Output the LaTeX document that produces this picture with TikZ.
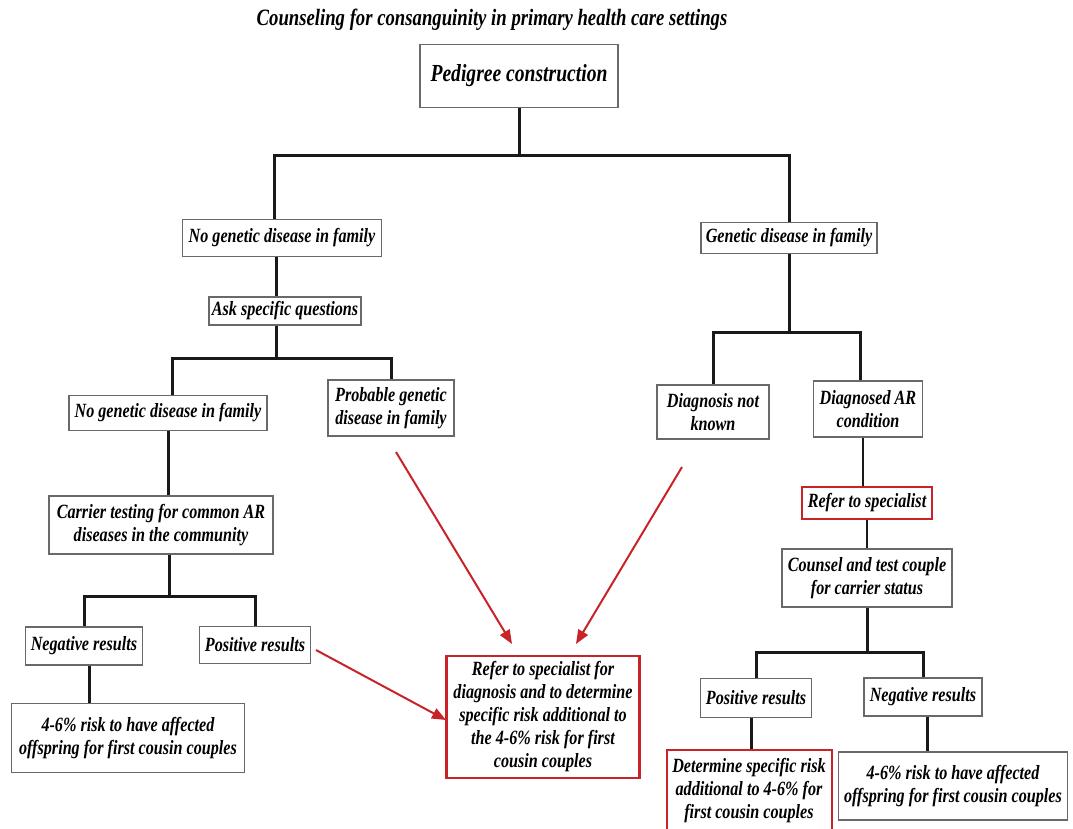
\documentclass[tikz,border=0pt]{standalone}
\usepackage{fontspec}
\usetikzlibrary{arrows.meta}
\newfontfamily\boxfont{Liberation Serif}[FakeStretch=0.8]
\definecolor{redline}{RGB}{200,35,40}
\definecolor{boxgray}{RGB}{105,105,105}
\def\bodysize{\fontsize{20.2}{23}\selectfont}

\begin{document}
\begin{tikzpicture}[x=1pt, y=-1pt,
    box/.style={draw=boxgray, line width=1.3pt, fill=white, align=center, inner sep=1pt,
        font=\boxfont\bfseries\itshape\bodysize},
    redbox/.style={box, draw=redline, line width=1.6pt},
    conn/.style={line width=3pt, black!90},
    thinconn/.style={line width=1.5pt, black!90},
    redarr/.style={draw=redline, line width=2pt, -{Triangle[length=14pt, width=11pt]}}]
    \useasboundingbox (0,0) rectangle (1073,828);

    % Title and root of the tree.
    \node[font=\boxfont\bfseries\itshape\fontsize{23.4}{27}\selectfont] (title) at (492,20)
        {Counseling for consanguinity in primary health care settings};
    \node[box, minimum width=198pt, minimum height=63pt, font=\boxfont\bfseries\itshape\fontsize{24.5}{28}\selectfont]
        (ped) at (519,76) {Pedigree construction};

    % Left branch: no known genetic disease.
    \node[box, minimum width=199pt, minimum height=37pt] (nog) at (282,238) {No genetic disease in family};
    \node[box, minimum width=152pt, minimum height=28pt] (ask) at (285,311) {Ask specific questions};
    \node[box, minimum width=198pt, minimum height=35pt] (nog2) at (168,413) {No genetic disease in family};
    \node[box, minimum width=126pt, minimum height=56pt] (prob) at (391,408) {Probable genetic\\disease in family};
    \node[box, minimum width=224pt, minimum height=58pt] (carrier) at (161,525)
        {Carrier testing for common AR\\diseases in the community};
    \node[box, minimum width=117pt, minimum height=38pt] (negL) at (84,646) {Negative results};
    \node[box, minimum width=111pt, minimum height=37pt] (posL) at (255,645) {Positive results};
    \node[box, minimum width=233pt, minimum height=69pt] (riskL) at (128,738)
        {4-6\% risk to have affected\\offspring for first cousin couples};

    % Right branch: genetic disease known in the family.
    \node[box, minimum width=176pt, minimum height=31pt] (gen) at (789,238) {Genetic disease in family};
    \node[box, minimum width=112pt, minimum height=54pt] (dnk) at (713,412) {Diagnosis not\\known};
    \node[box, minimum width=109pt, minimum height=56pt] (dar) at (868,409) {Diagnosed AR\\condition};
    \node[redbox, minimum width=130pt, minimum height=32pt] (refsp) at (867,503) {Refer to specialist};
    \node[box, minimum width=170pt, minimum height=58pt] (counsel) at (867,578)
        {Counsel and test couple\\for carrier status};
    \node[box, minimum width=111pt, minimum height=39pt] (posR) at (756,698) {Positive results};
    \node[box, minimum width=118pt, minimum height=38pt] (negR) at (923,697) {Negative results};
    \node[redbox, line width=2pt, minimum width=165pt, minimum height=82pt] (detR) at (749,791)
        {Determine specific risk\\additional to 4-6\% for\\first cousin couples};
    \node[box, minimum width=229pt, minimum height=68pt] (riskR) at (953,786)
        {4-6\% risk to have affected\\offspring for first cousin couples};

    % Central referral box.
    \node[redbox, line width=2.8pt, minimum width=193pt, minimum height=122pt] (spec) at (543,717)
        {Refer to specialist for\\diagnosis and to determine\\specific risk additional to\\the 4-6\% risk for first\\cousin couples};

    % Tree connectors.
    \draw[conn] (ped.south) -- ++(0,47) coordinate (b1);
    \draw[conn] ([xshift=-8pt]nog.north) |- (b1) -| (gen.north);
    \draw[conn] ([xshift=-6pt]nog.south) -- ([xshift=-6pt]nog.south |- ask.north);
    \draw[conn] ([xshift=-9pt]ask.south) -- ++(0,33) coordinate (b2);
    \draw[conn] ([xshift=4pt]nog2.north) |- (b2) -| (prob.north);
    \draw[conn] (nog2.south) -- (nog2.south |- carrier.north);
    \draw[conn] ([xshift=8pt]carrier.south) -- ++(0,42) coordinate (b3);
    \draw[conn] (negL.north) |- (b3) -| (posL.north);
    \draw[conn] ([xshift=5pt]negL.south) -- ([xshift=5pt]negL.south |- riskL.north);
    \draw[conn] (gen.south) -- ++(0,78) coordinate (b4);
    \draw[conn] (dnk.north) |- (b4) -| ([xshift=-8pt]dar.north);
    \draw[thinconn] ([xshift=-5pt]dar.south) -- ([xshift=-5pt]dar.south |- refsp.north);
    \draw[thinconn] (refsp.south) -- (refsp.south |- counsel.north);
    \draw[conn] (counsel.south) -- ++(0,45) coordinate (b5);
    \draw[conn] (posR.north) |- (b5) -| (negR.north);
    \draw[conn] ([xshift=-5pt]posR.south) -- ([xshift=-5pt]posR.south |- detR.north);
    \draw[conn] ([xshift=4pt]negR.south) -- ([xshift=4pt]negR.south |- riskR.north);

    % Red arrows into the referral box.
    \coordinate (r1) at (396,452);
    \coordinate (r2) at (682,467);
    \coordinate (r3) at (316,650);
    \coordinate (t1) at (512,644);
    \coordinate (t2) at (576,644);
    \coordinate (t3) at (446,720);
    \draw[redarr] (r1) -- (t1);
    \draw[redarr] (r2) -- (t2);
    \draw[redarr] (r3) -- (t3);
\end{tikzpicture}
\end{document}
